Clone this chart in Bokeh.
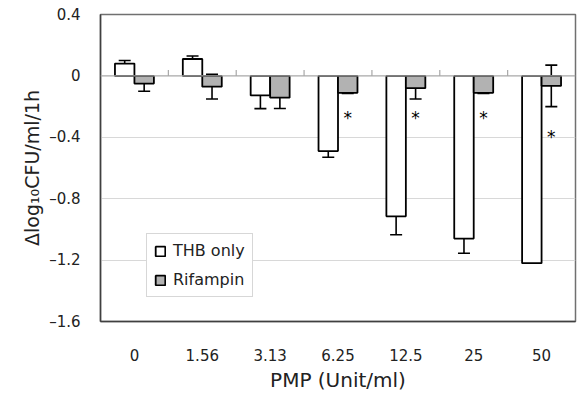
from bokeh.plotting import figure
from bokeh.models import (ColumnDataSource, Whisker, TeeHead, Legend, LegendItem,
                          FixedTicker, Range1d, Span)
from bokeh.core.properties import value
from bokeh.embed import file_html
from bokeh.resources import INLINE

categories = ["0", "1.56", "3.13", "6.25", "12.5", "25", "50"]
thb_only = [0.08, 0.11, -0.127, -0.49, -0.915, -1.06, -1.22]
thb_err = [0.02, 0.02, 0.086, 0.04, 0.12, 0.095, 0.0]
rifampin = [-0.05, -0.07, -0.142, -0.11, -0.08, -0.11, -0.065]
rif_err = [0.05, 0.08, 0.07, 0.005, 0.07, 0.005, 0.135]
star_y = [None, None, None, -0.25, -0.25, -0.25, -0.37]
y_ticks = [0.4, 0, -0.4, -0.8, -1.2, -1.6]
y_tick_labels = ["0.4", "0", "\u20130.4", "\u20130.8", "\u20131.2", "\u20131.6"]

FONT = "DejaVu Sans"
bw = 0.287
n = len(categories)
xc = [i + 0.5 for i in range(n)]

p = figure(width=577, height=394, output_backend="svg", toolbar_location=None,
           x_range=Range1d(0, n), y_range=Range1d(-1.6, 0.4),
           min_border_left=100, min_border_right=2, min_border_top=14,
           min_border_bottom=72)
p.background_fill_color = "white"
p.border_fill_color = "white"
p.outline_line_color = "#707070"
p.outline_line_width = 1.5

# grid
p.xgrid.visible = False
p.ygrid.ticker = FixedTicker(ticks=[-0.4, -0.8, -1.2])
p.ygrid.grid_line_color = "#d8d8d8"
p.ygrid.grid_line_width = 1.2

# zero line + category boundary ticks
p.add_layout(Span(location=0, dimension="width", line_color="#a8a8a8", line_width=1.2))
p.segment(x0=list(range(1, n)), y0=[0] * (n - 1), x1=list(range(1, n)), y1=[0.038] * (n - 1),
          line_color="#a8a8a8", line_width=1.2)

src = ColumnDataSource(dict(
    x_thb=[x - bw / 2 for x in xc], x_rif=[x + bw / 2 for x in xc],
    thb=thb_only, rif=rifampin))
r_thb = p.vbar(x="x_thb", top="thb", bottom=0, width=bw, source=src,
               fill_color="white", line_color="black", line_width=1.8)
r_rif = p.vbar(x="x_rif", top="rif", bottom=0, width=bw, source=src,
               fill_color="#b2b2b2", line_color="black", line_width=1.8)

def whisk(xs, vals, errs):
    idx = [i for i in range(n) if errs[i] > 0]
    s = ColumnDataSource(dict(x=[xs[i] for i in idx],
                              lo=[vals[i] - errs[i] for i in idx],
                              hi=[vals[i] + errs[i] for i in idx]))
    w = Whisker(base="x", lower="lo", upper="hi", source=s, dimension="height",
                line_color="black", line_width=1.6,
                upper_head=TeeHead(size=12, line_color="black", line_width=1.6),
                lower_head=TeeHead(size=12, line_color="black", line_width=1.6))
    p.add_layout(w)

whisk([x - bw / 2 for x in xc], thb_only, thb_err)
whisk([x + bw / 2 for x in xc], rifampin, rif_err)

# significance stars
sidx = [i for i in range(n) if star_y[i] is not None]
p.text(x=[xc[i] + bw / 2 for i in sidx], y=[star_y[i] for i in sidx], text=["*"] * len(sidx),
       text_align="center", text_baseline="middle", text_font=value(FONT),
       text_font_size="17px", text_color="black", y_offset=4)

# axes
p.xaxis.ticker = FixedTicker(ticks=xc)
p.xaxis.major_label_overrides = {x: c for x, c in zip(xc, categories)}
p.yaxis.ticker = FixedTicker(ticks=y_ticks)
p.yaxis.major_label_overrides = {t: l for t, l in zip(y_ticks, y_tick_labels)}
for ax in (p.xaxis, p.yaxis):
    ax.major_tick_line_color = None
    ax.minor_tick_line_color = None
    ax.axis_line_color = "#404040"
    ax.axis_line_width = 1.5
    ax.major_label_text_font = FONT
    ax.major_label_text_font_size = "15px"
    ax.major_label_text_color = "#222222"
    ax.axis_label_text_font = FONT
    ax.axis_label_text_font_style = "normal"
    ax.axis_label_text_color = "#222222"
p.xaxis.major_label_standoff = 21
p.yaxis.major_label_standoff = 14
p.xaxis.axis_label = "PMP (Unit/ml)"
p.xaxis.axis_label_text_font_size = "20px"
p.xaxis.axis_label_standoff = 4
p.yaxis.axis_label = "\u0394log\u2081\u2080CFU/ml/1h"
p.yaxis.axis_label_text_font_size = "19px"
p.yaxis.axis_label_standoff = 3

legend = Legend(items=[LegendItem(label="THB only", renderers=[r_thb]),
                       LegendItem(label="Rifampin", renderers=[r_rif])],
                location=(46, 24), border_line_color="#b0b0b0", border_line_width=1.2,
                background_fill_color="white", background_fill_alpha=1,
                label_text_font=FONT, label_text_font_size="16px",
                label_text_color="#222222",
                glyph_width=12, glyph_height=12, padding=7, spacing=10,
                label_standoff=7, margin=0)
p.add_layout(legend)

open("out.html", "w").write(file_html(p, INLINE))
